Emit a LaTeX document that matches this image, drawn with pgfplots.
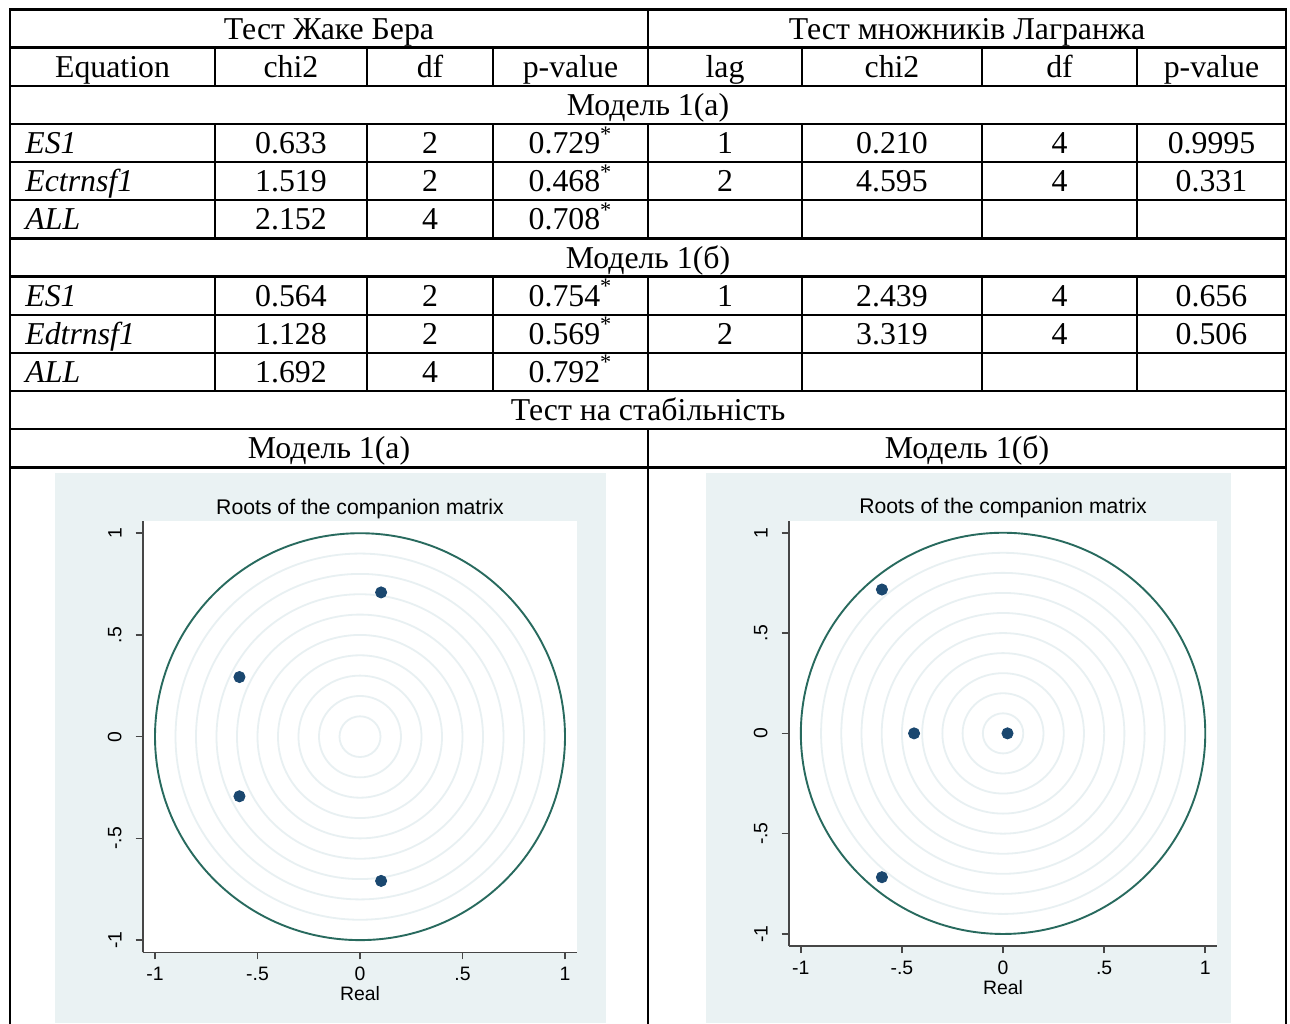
\documentclass[border=0pt]{standalone}
\usepackage{fontspec}
\setmainfont{Liberation Serif}
\newfontfamily\statafont{Liberation Sans}
\usepackage{pgfplots}
\pgfplotsset{compat=1.18}

\definecolor{panelbg}{RGB}{234,242,243}
\definecolor{gridc}{RGB}{232,240,242}
\definecolor{unitc}{RGB}{40,106,94}
\definecolor{rootc}{RGB}{26,71,111}
\definecolor{axisc}{RGB}{70,70,70}

\newcommand\tabfont{\fontsize{15.9pt}{18pt}\selectfont}
\newcommand\sfsmall{\statafont\fontsize{9.7pt}{11.5pt}\selectfont}
\newcommand\sftitle{\statafont\fontsize{10.6pt}{12.5pt}\selectfont}

% Stata-like eigenvalue stability plot
\pgfplotsset{
  rootsplot/.style={
    anchor=south west, scale only axis,
    xmin=-1.06, xmax=1.06, ymin=-1.06, ymax=1.06,
    axis x line*=bottom, axis y line*=left,
    axis line style={axisc, line width=0.8pt, -},
    xtick={-1,-0.5,0,0.5,1}, xticklabels={-1,-.5,0,.5,1},
    ytick={-1,-0.5,0,0.5,1}, yticklabels={-1,-.5,0,.5,1},
    tick align=outside, major tick length=3.5pt,
    tick style={axisc, line width=0.8pt},
    axis background/.style={fill=white},
    ticklabel style={font=\sfsmall},
    yticklabel style={rotate=90, anchor=south, yshift=3.5pt},
    xticklabel style={yshift=-0.5pt},
    xlabel={Real},
    xlabel style={font=\sfsmall, at={(axis description cs:0.5,0)}, anchor=base, yshift=-24.2pt},
    title={Roots of the companion matrix},
    title style={font=\sftitle, at={(axis description cs:0.5,1)}, anchor=base, yshift=-2.5pt},
  },
  rootmarks/.style={only marks, mark=*, mark size=2.8pt, color=rootc, mark options={fill=rootc, draw=rootc}},
}

\newcommand\unitgrid{%
  \pgfplotsinvokeforeach{0.1,0.2,0.3,0.4,0.5,0.6,0.7,0.8,0.9}{%
    \draw[gridc, line width=0.9pt] (axis cs:0,0) ellipse [x radius=##1, y radius=##1];}%
  \draw[unitc, line width=0.95pt] (axis cs:0,0) ellipse [x radius=1, y radius=1];%
}

\begin{document}
\begin{tikzpicture}
\useasboundingbox (0,0) rectangle (645pt,-511.5pt);

\begin{scope}[x=0.5pt,y=-0.5pt,
  every node/.style={font=\tabfont, inner sep=0pt, anchor=base},
  rule/.style={line width=1.2pt, line cap=rect}]
  % graph panels
  \fill[panelbg] (54.8,472.7) rectangle (606,1023);
  \fill[panelbg] (705.5,472.7) rectangle (1230.8,1023);

  % horizontal rules
  \foreach \k in {0,...,12}
    \draw[rule] (10,9.5+38.15*\k) -- (1286,9.5+38.15*\k);
  % outer borders
  \draw[rule] (10,9.5) -- (10,1030);
  \draw[rule] (1286,9.5) -- (1286,1030);
  % middle divider
  \draw[rule] (648,9.5) -- (648,85.8);
  \draw[rule] (648,124) -- (648,238.4);
  \draw[rule] (648,276.6) -- (648,391);
  \draw[rule] (648,429.2) -- (648,1030);
  % column dividers
  \foreach \c in {215,367,493,802,982,1137} {
    \draw[rule] (\c,47.7) -- (\c,85.8);
    \draw[rule] (\c,124) -- (\c,238.4);
    \draw[rule] (\c,276.6) -- (\c,391);
  }

  % header rows
  \node at (329,39.15) {Тест Жаке Бера};
  \node at (967,39.15) {Тест множників Лагранжа};
  \foreach \x/\t in {112.5/Equation,291/chi2,430/df,570.5/p-value,725/lag,892/chi2,1059.5/df,1211.5/p-value}
    \node at (\x,39.15+38.15) {\t};

  % model 1(a)
  \node at (648,39.15+38.15*2) {Модель 1(а)};
  \node[anchor=base west] at (25,39.15+38.15*3) {\itshape ES1};
  \node[anchor=base west] at (25,39.15+38.15*4) {\itshape Ectrnsf1};
  \node[anchor=base west] at (25,39.15+38.15*5) {\itshape ALL};
  \node at (291,39.15+38.15*3) {0.633};
  \node at (291,39.15+38.15*4) {1.519};
  \node at (291,39.15+38.15*5) {2.152};
  \node at (430,39.15+38.15*3) {2};
  \node at (430,39.15+38.15*4) {2};
  \node at (430,39.15+38.15*5) {4};
  \node at (570.5,39.15+38.15*3) {0.729\textsuperscript{*}};
  \node at (570.5,39.15+38.15*4) {0.468\textsuperscript{*}};
  \node at (570.5,39.15+38.15*5) {0.708\textsuperscript{*}};
  \node at (725,39.15+38.15*3) {1};
  \node at (725,39.15+38.15*4) {2};
  \node at (892,39.15+38.15*3) {0.210};
  \node at (892,39.15+38.15*4) {4.595};
  \node at (1059.5,39.15+38.15*3) {4};
  \node at (1059.5,39.15+38.15*4) {4};
  \node at (1211.5,39.15+38.15*3) {0.9995};
  \node at (1211.5,39.15+38.15*4) {0.331};

  % model 1(b)
  \node at (648,39.15+38.15*6) {Модель 1(б)};
  \node[anchor=base west] at (25,39.15+38.15*7) {\itshape ES1};
  \node[anchor=base west] at (25,39.15+38.15*8) {\itshape Edtrnsf1};
  \node[anchor=base west] at (25,39.15+38.15*9) {\itshape ALL};
  \node at (291,39.15+38.15*7) {0.564};
  \node at (291,39.15+38.15*8) {1.128};
  \node at (291,39.15+38.15*9) {1.692};
  \node at (430,39.15+38.15*7) {2};
  \node at (430,39.15+38.15*8) {2};
  \node at (430,39.15+38.15*9) {4};
  \node at (570.5,39.15+38.15*7) {0.754\textsuperscript{*}};
  \node at (570.5,39.15+38.15*8) {0.569\textsuperscript{*}};
  \node at (570.5,39.15+38.15*9) {0.792\textsuperscript{*}};
  \node at (725,39.15+38.15*7) {1};
  \node at (725,39.15+38.15*8) {2};
  \node at (892,39.15+38.15*7) {2.439};
  \node at (892,39.15+38.15*8) {3.319};
  \node at (1059.5,39.15+38.15*7) {4};
  \node at (1059.5,39.15+38.15*8) {4};
  \node at (1211.5,39.15+38.15*7) {0.656};
  \node at (1211.5,39.15+38.15*8) {0.506};

  % stability section
  \node at (648,39.15+38.15*10) {Тест на стабільність};
  \node at (329,39.15+38.15*11) {Модель 1(а)};
  \node at (967,39.15+38.15*11) {Модель 1(б)};
\end{scope}

% Model 1(a): roots of the companion matrix
\begin{axis}[rootsplot, at={(71.35pt,-476.15pt)}, width=217.3pt, height=215.65pt]
  \unitgrid
  \addplot[rootmarks] coordinates {
    (0.103,0.709) (0.103,-0.709) (-0.588,0.293) (-0.588,-0.293)
  };
\end{axis}

% Model 1(b): roots of the companion matrix
\begin{axis}[rootsplot, at={(394.35pt,-473pt)}, width=214.35pt, height=212.65pt]
  \unitgrid
  \addplot[rootmarks] coordinates {
    (-0.599,0.717) (-0.599,-0.717) (-0.44,0) (0.022,0)
  };
\end{axis}
\end{tikzpicture}
\end{document}
